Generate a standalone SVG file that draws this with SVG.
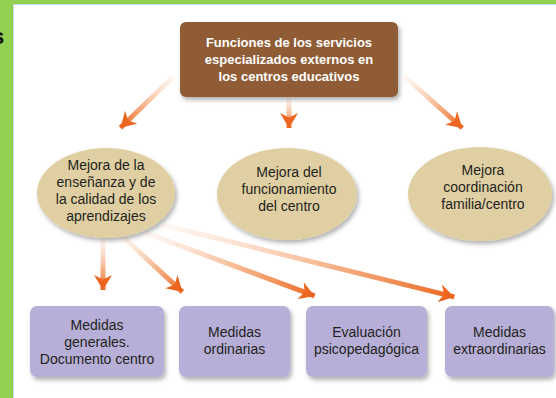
<svg xmlns="http://www.w3.org/2000/svg" width="556" height="398" viewBox="0 0 556 398">
<style>
.t{font-family:"Liberation Sans",Arial,sans-serif;font-size:14px;fill:#231f20;text-anchor:middle}
.tb{font-family:"Liberation Sans",Arial,sans-serif;font-size:13px;font-weight:bold;fill:#ffffff;text-anchor:middle}
.ell{fill:#e0cfa2}
.box{fill:#b7afd7}
.arr{fill:none;stroke-width:5;marker-end:url(#head)}
.s0{stop-color:#fbd9c2;stop-opacity:0.2}
.s1{stop-color:#f3a06c;stop-opacity:0.85}
.s2{stop-color:#ec661f}
</style>
<defs>
<filter id="sh" x="-20%" y="-20%" width="140%" height="150%">
<feDropShadow dx="2" dy="3" stdDeviation="2" flood-color="#000" flood-opacity="0.3"/>
</filter>
<marker id="head" markerUnits="userSpaceOnUse" markerWidth="18" markerHeight="18" refX="15" refY="9" orient="auto" viewBox="0 0 18 18">
<path d="M0,0 L15,9 L0,18 L4.5,9 Z" fill="#ec661f"/>
</marker>
<linearGradient id="g1" gradientUnits="userSpaceOnUse" x1="174" y1="76" x2="120" y2="128"><stop offset="0" class="s0"/><stop offset="0.6" class="s1"/><stop offset="1" class="s2"/></linearGradient>
<linearGradient id="g2" gradientUnits="userSpaceOnUse" x1="289" y1="97" x2="289" y2="129"><stop offset="0" class="s0"/><stop offset="0.6" class="s1"/><stop offset="1" class="s2"/></linearGradient>
<linearGradient id="g3" gradientUnits="userSpaceOnUse" x1="404" y1="76" x2="463" y2="129"><stop offset="0" class="s0"/><stop offset="0.6" class="s1"/><stop offset="1" class="s2"/></linearGradient>
<linearGradient id="g4" gradientUnits="userSpaceOnUse" x1="103" y1="238" x2="103" y2="291"><stop offset="0" class="s0"/><stop offset="0.6" class="s1"/><stop offset="1" class="s2"/></linearGradient>
<linearGradient id="g5" gradientUnits="userSpaceOnUse" x1="122" y1="236" x2="183" y2="293"><stop offset="0" class="s0"/><stop offset="0.6" class="s1"/><stop offset="1" class="s2"/></linearGradient>
<linearGradient id="g6" gradientUnits="userSpaceOnUse" x1="146" y1="233" x2="316" y2="296"><stop offset="0" class="s0"/><stop offset="0.6" class="s1"/><stop offset="1" class="s2"/></linearGradient>
<linearGradient id="g7" gradientUnits="userSpaceOnUse" x1="163" y1="225" x2="455" y2="297"><stop offset="0" class="s0"/><stop offset="0.6" class="s1"/><stop offset="1" class="s2"/></linearGradient>
</defs>

<g id="frame">
<rect x="0" y="0" width="556" height="398" fill="#92d050"/>
<rect x="13.5" y="4.5" width="543" height="394" fill="#ffffff" stroke="#c6d6ea" stroke-width="1"/>
<text x="-8" y="44" font-family="Liberation Sans,Arial,sans-serif" font-size="22" font-weight="bold" fill="#111">s</text>
</g>

<g id="connectors">
<line class="arr" stroke="url(#g1)" x1="174" y1="76" x2="120.5" y2="127.7"/>
<line class="arr" stroke="url(#g2)" x1="289" y1="97" x2="289" y2="128"/>
<line class="arr" stroke="url(#g3)" x1="404" y1="76" x2="462.3" y2="128"/>
<line class="arr" stroke="url(#g4)" x1="103" y1="238" x2="103" y2="290"/>
<line class="arr" stroke="url(#g5)" x1="122" y1="236" x2="182.4" y2="291.9"/>
<line class="arr" stroke="url(#g6)" x1="146" y1="233" x2="314.6" y2="295.9"/>
<line class="arr" stroke="url(#g7)" x1="163" y1="225" x2="454.3" y2="296.9"/>
</g>

<g id="top">
<rect x="180" y="22" width="218" height="75" rx="6" fill="#8f5c35" filter="url(#sh)"/>
<text class="tb" x="289" y="47">Funciones de los servicios</text>
<text class="tb" x="289" y="64">especializados externos en</text>
<text class="tb" x="289" y="81">los centros educativos</text>
</g>

<g id="mejora1">
<ellipse class="ell" cx="106" cy="193" rx="69" ry="45" filter="url(#sh)"/>
<text class="t" x="106" y="170">Mejora de la</text>
<text class="t" x="106" y="187">enseñanza y de</text>
<text class="t" x="106" y="204">la calidad de los</text>
<text class="t" x="106" y="221">aprendizajes</text>
</g>

<g id="mejora2">
<ellipse class="ell" cx="287" cy="194" rx="70" ry="46" filter="url(#sh)"/>
<text class="t" x="289" y="177">Mejora del</text>
<text class="t" x="289" y="194">funcionamiento</text>
<text class="t" x="289" y="211">del centro</text>
</g>

<g id="mejora3">
<ellipse class="ell" cx="480" cy="194" rx="72" ry="47" filter="url(#sh)"/>
<text class="t" x="483" y="175">Mejora</text>
<text class="t" x="483" y="192">coordinación</text>
<text class="t" x="483" y="209">familia/centro</text>
</g>

<g id="medidas-generales">
<rect class="box" x="30" y="306" width="134" height="71" rx="7" filter="url(#sh)"/>
<text class="t" x="97" y="330">Medidas</text>
<text class="t" x="97" y="347">generales.</text>
<text class="t" x="97" y="364">Documento centro</text>
</g>

<g id="medidas-ordinarias">
<rect class="box" x="179" y="306" width="111" height="71" rx="7" filter="url(#sh)"/>
<text class="t" x="234.5" y="337">Medidas</text>
<text class="t" x="234.5" y="354">ordinarias</text>
</g>

<g id="evaluacion">
<rect class="box" x="306" y="306" width="121" height="71" rx="7" filter="url(#sh)"/>
<text class="t" x="366.5" y="337">Evaluación</text>
<text class="t" x="366.5" y="354">psicopedagógica</text>
</g>

<g id="medidas-extra">
<rect class="box" x="445" y="306" width="109" height="71" rx="7" filter="url(#sh)"/>
<text class="t" x="499.5" y="337">Medidas</text>
<text class="t" x="499.5" y="354">extraordinarias</text>
</g>
</svg>
